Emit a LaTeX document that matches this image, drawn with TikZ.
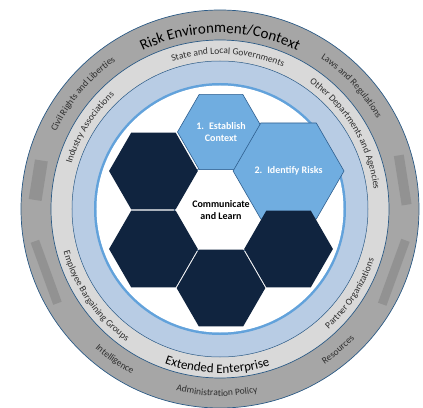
\documentclass[tikz,border=0pt]{standalone}
\usepackage{fontspec}
\setmainfont{Carlito}
\usepackage{xcolor}
\usepackage{tikz}
\usetikzlibrary{calc}
\usetikzlibrary{shapes}
\usetikzlibrary{shapes.geometric}
\usetikzlibrary{decorations}
\usetikzlibrary{decorations.text}

\definecolor{ringgray}{HTML}{A6A6A6}
\definecolor{ringlight}{HTML}{D9D9D9}
\definecolor{ringblue}{HTML}{B8CCE4}
\definecolor{ringline}{HTML}{2B5A85}
\definecolor{rimblue}{HTML}{62A2DB}
\definecolor{hexblue}{HTML}{70ADE0}
\definecolor{hexnavy}{HTML}{10243F}
\definecolor{hexedge}{HTML}{2F5F8F}
\definecolor{blurgray}{HTML}{8E8E8E}
\definecolor{labelgray}{HTML}{2E2E2E}

\newcommand{\smallring}{\fontsize{9.5}{11}\selectfont\color{labelgray}}
\newcommand{\bigring}{\fontsize{15}{17}\selectfont\color{black}}
\newcommand{\midring}{\fontsize{13}{15}\selectfont\color{black}}

\tikzstyle{hexcell} = [regular polygon, regular polygon sides=6, minimum size=87pt, inner sep=0pt, outer sep=0pt, align=center, line width=0.6pt]
\tikzstyle{stephex} = [hexcell, fill=hexblue, draw=hexedge, text=white, font=\bfseries\fontsize{10}{12}\selectfont]
\tikzstyle{darkhex} = [hexcell, fill=hexnavy, draw=hexnavy, line width=1.5pt]
\tikzstyle{corehex} = [hexcell, fill=white, draw=hexedge, font=\bfseries\fontsize{10}{12}\selectfont]
\tikzstyle{blur} = [rectangle, fill=blurgray, fill opacity=0.8, inner sep=0pt, outer sep=0pt]
\tikzset{ringtext/.style={decorate, decoration={text along path, text align=center, text={#1}}}}

\begin{document}
\begin{tikzpicture}[x=1pt, y=1pt]
\useasboundingbox (-220,-198) rectangle (203,209);

% rings
\fill [ringgray, draw=ringline, line width=0.7pt] (0,0) circle [radius=199pt];
\fill [ringlight, draw=ringline, line width=0.7pt] (0,0) circle [radius=169pt];
\fill [ringblue, draw=ringline, line width=0.5pt] (0,0) circle [radius=148pt];
\fill [rimblue] (0,0) circle [radius=126pt];
\fill [white] (0,0) circle [radius=123.5pt];

% outer ring labels
\path [ringtext={|\bigring|Risk Environment/Context}] (150:176pt) arc [start angle=150, end angle=30, radius=176pt];
\path [ringtext={|\smallring|Civil Rights and Liberties}] (200:181pt) arc [start angle=200, end angle=80, radius=181pt];
\path [ringtext={|\smallring|Laws and Regulations}] (103:181pt) arc [start angle=103, end angle=-17, radius=181pt];
\path [ringtext={|\smallring|Intelligence}] (175:187pt) arc [start angle=175, end angle=295, radius=187pt];
\path [ringtext={|\smallring|Administration Policy}] (209:187pt) arc [start angle=209, end angle=329, radius=187pt];
\path [ringtext={|\smallring|Resources}] (250:187pt) arc [start angle=250, end angle=370, radius=187pt];

% blurred labels
\node [blur, minimum width=40pt, minimum height=13pt, rotate=81] (blurW) at (171:184pt) {};
\node [blur, minimum width=66pt, minimum height=9pt, rotate=110] (blurSW) at (200:185pt) {};
\node [blur, minimum width=50pt, minimum height=10pt, rotate=-81] (blurE) at (9:185pt) {};
\node [blur, minimum width=68pt, minimum height=9pt, rotate=70] (blurSE) at (-20:185pt) {};

% middle ring labels
\path [ringtext={|\smallring|State and Local Governments}] (147:155pt) arc [start angle=147, end angle=27, radius=155pt];
\path [ringtext={|\smallring|Other Departments and Agencies}] (91:155pt) arc [start angle=91, end angle=-29, radius=155pt];
\path [ringtext={|\smallring|Industry Associations}] (208:155pt) arc [start angle=208, end angle=88, radius=155pt];
\path [ringtext={|\smallring|Employee Bargaining Groups}] (155:162pt) arc [start angle=155, end angle=275, radius=162pt];
\path [ringtext={|\midring|Extended Enterprise}] (209:164pt) arc [start angle=209, end angle=329, radius=164pt];
\path [ringtext={|\smallring|Partner Organizations}] (267:162pt) arc [start angle=267, end angle=387, radius=162pt];

% hexagons
\node [corehex] (learn) at (1,-1) {Communicate\\and Learn};
\node [stephex] (establish) at ($(learn)+(90:78pt)$) {1.\enspace Establish\\Context};
\node [stephex] (identify) at ($(learn)+(30:78pt)$) {2.\enspace Identify Risks};
\node [darkhex] (cellSE) at ($(learn)+(-30:78pt)$) {};
\node [darkhex] (cellS) at ($(learn)+(-90:78pt)$) {};
\node [darkhex] (cellSW) at ($(learn)+(-150:78pt)$) {};
\node [darkhex] (cellNW) at ($(learn)+(150:78pt)$) {};
\end{tikzpicture}
\end{document}
